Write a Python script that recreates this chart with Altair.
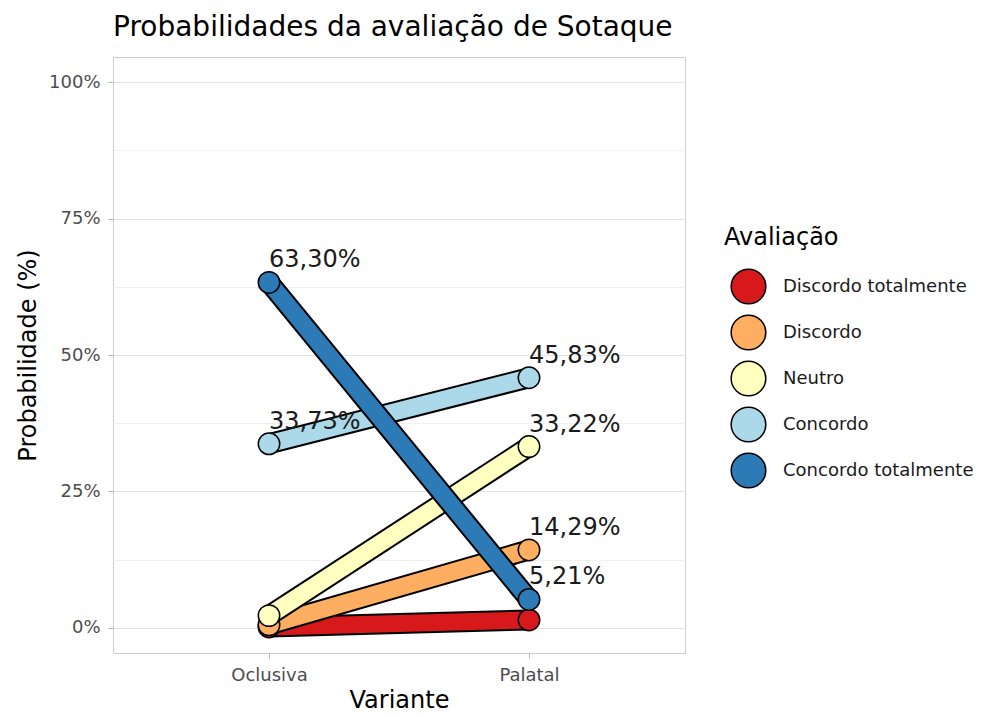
import altair as alt
import pandas as pd

FONT = "DejaVu Sans"

variantes = ["Oclusiva", "Palatal"]
avaliacoes = ["Discordo totalmente", "Discordo", "Neutro", "Concordo", "Concordo totalmente"]
cores = ["#d7191c", "#fdae61", "#ffffbf", "#abd9e9", "#2c7bb6"]
prob_oclusiva = [0.17, 0.55, 2.25, 33.73, 63.30]
prob_palatal = [1.45, 14.29, 33.22, 45.83, 5.21]
y_ticks = [0, 12.5, 25, 37.5, 50, 62.5, 75, 87.5, 100]

rows = []
for i, a in enumerate(avaliacoes):
    rows.append({"Variante": variantes[0], "Avaliacao": a, "p": prob_oclusiva[i]})
    rows.append({"Variante": variantes[1], "Avaliacao": a, "p": prob_palatal[i]})
df = pd.DataFrame(rows)

color_scale = alt.Scale(domain=avaliacoes, range=cores)

x_enc = alt.X(
    "Variante:N",
    scale=alt.Scale(type="point", padding=0.6, domain=variantes),
    axis=alt.Axis(
        title="Variante", labelAngle=0, domain=False,
        gridColor="#e3e3e3", gridWidth=1,
        tickColor="#b3b3b3", tickSize=5, labelPadding=8,
        labelFontSize=18, labelColor="#4d4d4d",
        titleFontSize=24, titlePadding=4,
    ),
)
y_enc = alt.Y(
    "p:Q",
    scale=alt.Scale(domain=[-4.6, 104.6], nice=False, zero=False),
    axis=alt.Axis(
        title="Probabilidade (%)", values=y_ticks, domain=False,
        labelExpr="datum.value % 25 == 0 ? datum.value + '%' : ''",
        gridColor={"condition": {"test": "datum.value % 25 != 0", "value": "#f1f1f1"}, "value": "#e3e3e3"},
        tickOpacity={"condition": {"test": "datum.value % 25 != 0", "value": 0}, "value": 1},
        tickColor="#b3b3b3", tickSize=5, labelPadding=8,
        labelFontSize=18, labelColor="#4d4d4d",
        titleFontSize=24, titlePadding=8,
    ),
)

legend = alt.Legend(
    title="Avaliação", orient="none", legendX=611, legendY=169,
    titleFontSize=24, titleFont=FONT, titleFontWeight="normal", titleColor="#000000",
    titlePadding=18, labelFontSize=18, labelFont=FONT, labelColor="#1a1a1a",
    symbolSize=1200, symbolType="circle", symbolStrokeColor="black", symbolStrokeWidth=1.5,
    symbolOpacity=1, rowPadding=5, labelOffset=16, symbolOffset=6, labelLimit=400,
)

base = alt.Chart(df)
layers = []
for i, a in enumerate(avaliacoes):
    sub = base.transform_filter(alt.datum.Avaliacao == a)
    layers.append(sub.mark_line(color="black", strokeWidth=21, strokeCap="round").encode(x=x_enc, y=y_enc))
    layers.append(sub.mark_line(color=cores[i], strokeWidth=17, strokeCap="round").encode(x=x_enc, y=y_enc))
    layers.append(
        sub.mark_point(filled=True, shape="circle", size=460, stroke="black", strokeWidth=1.5, opacity=1).encode(
            x=x_enc, y=y_enc,
            color=alt.Color("Avaliacao:N", scale=color_scale, legend=legend),
        )
    )

labels = base.transform_filter("datum.p > 5").transform_calculate(
    lab="replace(format(datum.p, '.2f'), '.', ',') + '%'"
).mark_text(align="left", baseline="alphabetic", dx=0, dy=-15, fontSize=24, font=FONT, color="#1a1a1a").encode(
    x=x_enc, y=y_enc, text="lab:N"
)
layers.append(labels)

chart = alt.layer(*layers).properties(
    width=572,
    height=596,
    title=alt.TitleParams(
        "Probabilidades da avaliação de Sotaque", anchor="start", frame="group",
        fontSize=28, font=FONT, fontWeight="normal", color="#000000", offset=15,
    ),
    autosize=alt.AutoSizeParams(type="none"),
    padding={"left": 105, "top": 49, "right": 292, "bottom": 62},
).configure_axis(
    labelFont=FONT, titleFont=FONT, titleFontWeight="normal", titleColor="#000000",
).configure_view(
    stroke="#cccccc", strokeWidth=1,
)

chart.save("out.html", embed_options={"renderer": "svg", "actions": False})
